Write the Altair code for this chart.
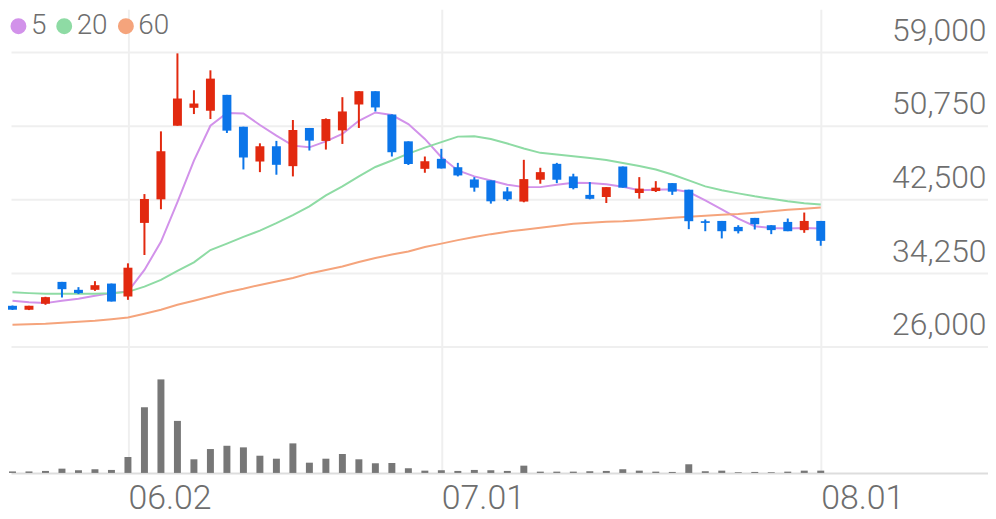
import altair as alt
import pandas as pd

# ---- data ----
dates = ["05.22", "05.23", "05.26", "05.27", "05.28", "05.29", "05.30",
         "06.02", "06.04", "06.05", "06.09", "06.10", "06.11", "06.12", "06.13",
         "06.16", "06.17", "06.18", "06.19", "06.20", "06.23", "06.24", "06.25",
         "06.26", "06.27", "06.30",
         "07.01", "07.02", "07.03", "07.04", "07.07", "07.08", "07.09", "07.10",
         "07.11", "07.14", "07.15", "07.16", "07.17", "07.18", "07.21", "07.22",
         "07.23", "07.24", "07.25", "07.28", "07.29", "07.30", "07.31", "08.01"]

open_ = [30570, 30130, 30800, 33250, 32360, 32360, 33060, 31610, 39860, 42500,
         50750, 52760, 52430, 54210, 50640, 46740, 48450, 46220, 50500, 49050,
         50230, 53130, 54620, 52010, 49000, 45920, 47040, 46100, 44730, 44620,
         43390, 42250, 44700, 46480, 45070, 43000, 42760, 46180, 43210, 43430,
         44320, 43580, 40050, 40080, 39410, 40420, 39600, 39970, 39050, 40080]
high = [30600, 30570, 31580, 33250, 32660, 33330, 33060, 35330, 43090, 50120,
        58860, 54730, 56960, 54210, 50640, 48780, 49050, 51390, 50500, 51570,
        53950, 54620, 54620, 52010, 49000, 47300, 48160, 46590, 44990, 44620,
        43870, 46930, 46040, 46590, 45370, 44430, 43870, 46180, 44990, 44540,
        44320, 43580, 40240, 40080, 39600, 40420, 39600, 40350, 41020, 40080]
low = [30100, 30090, 30680, 31500, 31880, 32240, 31050, 31240, 36260, 41390,
       50750, 52060, 51500, 49940, 45850, 45550, 45260, 45070, 47970, 48080,
       48710, 50500, 52350, 47300, 46350, 45480, 45960, 45070, 43360, 42020,
       42310, 42170, 44250, 44320, 43620, 42500, 42090, 43810, 42580, 43320,
       43000, 39160, 38930, 38120, 38680, 39120, 38600, 38930, 38750, 37300]
close = [30130, 30570, 31540, 32430, 31990, 32880, 31050, 34840, 42540, 47890,
         53800, 53240, 56030, 50200, 47190, 48450, 46370, 50270, 49080, 51500,
         52350, 54620, 52800, 47780, 46460, 46770, 45960, 45180, 43810, 42280,
         42500, 44770, 45550, 44700, 43760, 42560, 43870, 43810, 43700, 43810,
         43360, 40050, 39860, 38930, 38930, 39710, 39050, 38930, 40080, 37850]
volume = [150000, 150000, 200000, 430000, 270000, 370000, 300000, 1600000,
          6600000, 9400000, 5230000, 1370000, 2400000, 2730000, 2570000,
          1730000, 1430000, 2970000, 1030000, 1430000, 1900000, 1370000,
          970000, 1000000, 470000, 230000, 270000, 200000, 300000, 270000,
          200000, 730000, 130000, 130000, 130000, 170000, 200000, 370000,
          230000, 130000, 100000, 870000, 170000, 230000, 70000, 100000,
          70000, 130000, 230000, 230000]

ma5 = [31130, 30960, 30870, 31130, 31350, 31690, 31990, 32170, 34590, 37740,
       42200, 46850, 50750, 52170, 52120, 50830, 49640, 48520, 48330, 49000,
       49830, 51310, 52240, 51950, 50940, 49270, 47220, 45740, 45070, 44620,
       44140, 43870, 43870, 44140, 44360, 44320, 44180, 43920, 43510, 43580,
       43620, 43320, 42390, 41390, 40350, 39490, 39300, 39240, 39300, 39240]
ma20 = [32100, 31990, 31910, 31910, 31910, 31910, 31970, 32130, 32720, 33470,
        34470, 35440, 36820, 37540, 38300, 38990, 39830, 40720, 41720, 42950,
        43950, 45070, 46130, 46850, 47630, 48300, 48910, 49530, 49560, 49270,
        48750, 48190, 47710, 47520, 47330, 47130, 46910, 46570, 46240, 45850,
        45290, 44620, 43950, 43510, 43170, 42840, 42560, 42280, 42060, 41910]
ma60 = [28450, 28510, 28570, 28680, 28790, 28900, 29070, 29270, 29680, 30130,
        30680, 31130, 31610, 32080, 32470, 32910, 33300, 33690, 34200, 34590,
        34980, 35480, 35920, 36310, 36650, 37150, 37540, 37930, 38270, 38600,
        38880, 39100, 39320, 39550, 39770, 39880, 39990, 40050, 40160, 40300,
        40440, 40550, 40660, 40780, 40850, 41000, 41160, 41330, 41440, 41580]

price_ticks = [26000, 34250, 42500, 50750, 59000]
tick_dates = ["06.02", "07.01", "08.01"]
ma_names = ["5", "20", "60"]

# ---- styling ----
UP = "#e2290f"
DOWN = "#0b75e9"
VOL = "#777777"
MA_COLORS = ["#d292ea", "#8edba4", "#f5a47c"]
GRID = "#efefef"
TXT = "#6e6e6e"
FONT = "Roboto"

W = 982
H_PRICE = 339
H_VOL = 127

n = len(dates)
df = pd.DataFrame({"i": list(range(n)), "date": dates, "open": open_,
                   "high": high, "low": low, "close": close, "volume": volume})
df["col"] = [UP if c >= o else DOWN for o, c in zip(open_, close)]

ma_df = pd.concat([
    pd.DataFrame({"i": list(range(n)), "ma": vals, "series": name})
    for name, vals in zip(ma_names, [ma5, ma20, ma60])
], ignore_index=True)

tick_idx = [dates.index(d) for d in tick_dates]
label_expr = " : ".join(f"datum.value == {i} ? '{d}'" for i, d in zip(tick_idx, tick_dates)) + " : ''"

x_scale = alt.Scale(domain=[-0.0905, 59.14], nice=False, zero=False, padding=0)
y_scale = alt.Scale(domain=[26000, 63800], nice=False, zero=False, padding=0)

x_price = alt.X("i:Q", scale=x_scale, title=None,
                axis=alt.Axis(values=tick_idx, grid=True, gridColor=GRID, gridWidth=2,
                              labels=False, ticks=False, tickSize=0, domain=False,
                              minExtent=0, maxExtent=0))
y_axis = alt.Axis(orient="right", values=price_ticks, grid=True,
                  labelExpr="format(datum.value, ',')",
                  gridColor=GRID, gridWidth=2, domain=False, ticks=False, tickSize=0,
                  labelAlign="right", labelBaseline="alphabetic", labelPadding=-2,
                  labelOffset=-12, labelFontSize=32, labelColor=TXT, labelFont=FONT,
                  labelFontWeight=300, labelOverlap=False, labelFlush=False,
                  minExtent=0, maxExtent=0)

lines = alt.Chart(ma_df).mark_line(strokeWidth=2).encode(
    x=x_price,
    y=alt.Y("ma:Q", scale=y_scale, axis=y_axis, title=None),
    color=alt.Color("series:N", scale=alt.Scale(domain=ma_names, range=MA_COLORS),
                    legend=alt.Legend(title=None, orient="none", legendX=0, legendY=3,
                                      direction="horizontal", symbolType="circle",
                                      symbolSize=64, symbolStrokeWidth=8,
                                      symbolOffset={"expr": "-6.5"},
                                      labelFontSize=28, labelColor=TXT, labelFont=FONT,
                                      labelFontWeight=300, labelOffset={"expr": "-1.5"},
                                      columnPadding={"expr": "-3"}, padding=0)),
    detail="series:N",
)

wicks = alt.Chart(df).mark_rule(strokeWidth=2).encode(
    x=x_price,
    y=alt.Y("low:Q", scale=y_scale, axis=y_axis, title=None),
    y2="high:Q",
    color=alt.Color("col:N", scale=None),
)

bodies = alt.Chart(df).mark_bar(size=9).encode(
    x=x_price,
    y=alt.Y("open:Q", scale=y_scale, axis=y_axis, title=None),
    y2="close:Q",
    color=alt.Color("col:N", scale=None),
)

price = alt.layer(lines, wicks, bodies).properties(width=W, height=H_PRICE)

vol = alt.Chart(df).mark_bar(size=7, color=VOL).encode(
    x=alt.X("i:Q", scale=x_scale, title=None,
            axis=alt.Axis(values=tick_idx, grid=True, gridColor=GRID, gridWidth=2,
                          labelExpr=label_expr, labelAlign="left", labelBaseline="top",
                          labelPadding=9, labelFontSize=34, labelColor=TXT,
                          labelFont=FONT, labelFontWeight=300, ticks=False, tickSize=0,
                          domain=True, domainColor="#dddddd", domainWidth=2,
                          labelOverlap=False, labelFlush=False)),
    y=alt.Y("volume:Q", scale=alt.Scale(domain=[0, 12700000], nice=False), axis=None),
).properties(width=W, height=H_VOL)

chart = alt.vconcat(price, vol, spacing=0).properties(
    padding=0, background="white"
).configure_view(strokeWidth=0)

chart.save("out.html", embed_options={"renderer": "svg", "actions": False})
